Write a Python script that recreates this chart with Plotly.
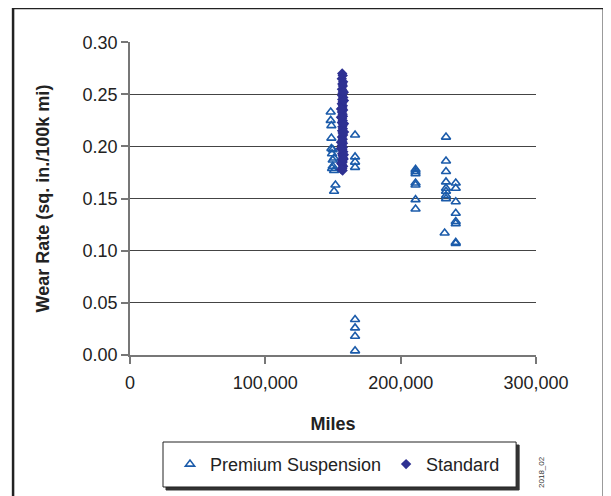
import plotly.graph_objects as go

# Premium Suspension (open triangles)
prem_miles = [148300, 148300, 148800, 148800, 148800, 149800, 149300, 150800, 149800, 149800,
              149300, 150800, 151800, 150800,
              166300, 166300, 166300, 166300,
              166300, 166300, 166300, 166300,
              211000, 211000, 211000, 211000, 211000, 211000, 211000,
              233500, 233500, 233500, 233500, 233500, 233500, 233500, 233500, 232500,
              240700, 240700, 240700, 240700, 240700, 240700, 240700, 240700]
prem_wear = [0.233, 0.225, 0.220, 0.208, 0.198, 0.197, 0.193, 0.189, 0.187, 0.181,
             0.179, 0.177, 0.163, 0.157,
             0.211, 0.190, 0.185, 0.180,
             0.034, 0.026, 0.018, 0.004,
             0.178, 0.176, 0.174, 0.165, 0.163, 0.149, 0.140,
             0.209, 0.186, 0.176, 0.166, 0.160, 0.157, 0.153, 0.150, 0.117,
             0.165, 0.160, 0.147, 0.136, 0.128, 0.126, 0.108, 0.107]

# Standard (filled diamonds)
std_wear = [0.270, 0.268, 0.265, 0.262, 0.260, 0.258, 0.255, 0.253, 0.251, 0.249,
            0.247, 0.245, 0.243, 0.241, 0.239, 0.237, 0.235, 0.233, 0.231, 0.229,
            0.227, 0.225, 0.223, 0.221, 0.219, 0.217, 0.215, 0.213, 0.211, 0.209,
            0.207, 0.205, 0.203, 0.201, 0.199, 0.197, 0.195, 0.193, 0.191, 0.189,
            0.187, 0.185, 0.183, 0.181, 0.179, 0.177, 0.252, 0.236, 0.222, 0.204,
            0.192, 0.184, 0.198, 0.214, 0.228, 0.244, 0.188, 0.178]
std_miles = [156800, 157200, 156500, 157500, 156900, 157300, 156600, 157400, 157000, 156700,
             157600, 156800, 157200, 156500, 157300, 156900, 157500, 156600, 157100, 157400,
             156800, 157200, 156500, 157600, 156900, 157300, 156700, 157100, 157500, 156600,
             157200, 156800, 157400, 156500, 157300, 156900, 157600, 156700, 157100, 157400,
             156800, 157200, 156600, 157500, 156900, 157100, 158000, 155900, 158100, 155900,
             158000, 156000, 155800, 158200, 155900, 158100, 157900, 156200]

x_ticks = [0, 100000, 200000, 300000]
x_tick_labels = ["0", "100,000", "200,000", "300,000"]
y_ticks = [0.00, 0.05, 0.10, 0.15, 0.20, 0.25, 0.30]
y_tick_labels = ["0.00", "0.05", "0.10", "0.15", "0.20", "0.25", "0.30"]

fig = go.Figure()
fig.add_trace(go.Scatter(
    x=prem_miles, y=prem_wear, mode="markers", name="Premium Suspension",
    marker=dict(symbol="triangle-up-open", size=8, color="#1B5BAA", line=dict(width=1.6, color="#1B5BAA")),
))
fig.add_trace(go.Scatter(
    x=std_miles, y=std_wear, mode="markers", name="Standard",
    marker=dict(symbol="diamond", size=8, color="#2E3192"),
))

font = "Liberation Sans, Arial, sans-serif"
txt = "#222"

fig.update_layout(
    width=611, height=496,
    margin=dict(l=122, r=83, t=34, b=149),
    paper_bgcolor="white", plot_bgcolor="white",
    font=dict(family=font, size=18, color=txt),
    showlegend=True,
    legend=dict(
        orientation="h", x=0.0985, y=-0.2904, xanchor="left", yanchor="top",
        bgcolor="rgba(0,0,0,0)", borderwidth=0,
        font=dict(size=18, family=font, color=txt),
        itemwidth=30,
    ),
    xaxis=dict(
        range=[0, 300000], tickvals=x_ticks, ticktext=x_tick_labels,
        showgrid=False, zeroline=False, showline=True, linecolor="#777", linewidth=1.5,
        ticks="outside", ticklen=7, tickcolor="#777", tickwidth=1.5,
        ticklabelstandoff=4,
        tickfont=dict(size=18, family=font, color=txt),
        title=dict(text="<b>Miles</b>", font=dict(size=18, family=font, color=txt), standoff=25),
    ),
    yaxis=dict(
        range=[0, 0.3002], tickvals=y_ticks, ticktext=y_tick_labels,
        showgrid=True, gridcolor="#444", gridwidth=1.3,
        zeroline=False, showline=True, linecolor="#777", linewidth=1.5,
        ticks="outside", ticklen=7, tickcolor="#777", tickwidth=1.5,
        tickfont=dict(size=18, family=font, color=txt),
        title=dict(text="<b>Wear Rate (sq. in./100k mi)</b>", font=dict(size=18, family=font, color=txt), standoff=28),
    ),
    shapes=[
        # outer frame
        dict(type="rect", xref="paper", yref="paper", x0=-0.288, x1=1.167, y0=-0.47, y1=1.109,
             line=dict(color="#222", width=2.5), fillcolor="rgba(0,0,0,0)", layer="below"),
        # legend shadow
        dict(type="rect", xref="paper", yref="paper", x0=0.0887, x1=0.9584, y0=-0.4313, y1=-0.2876,
             line=dict(color="#333", width=1), fillcolor="#333", layer="above"),
        # legend box
        dict(type="rect", xref="paper", yref="paper", x0=0.0813, x1=0.951, y0=-0.4217, y1=-0.278,
             line=dict(color="#222", width=1), fillcolor="white", layer="above"),
    ],
    annotations=[
        dict(text="2018_02", xref="paper", yref="paper", x=1.012, y=-0.374, textangle=-90,
             showarrow=False, font=dict(size=8, family=font, color="#333"), xanchor="center", yanchor="middle"),
    ],
)

fig.write_html("out.html")
